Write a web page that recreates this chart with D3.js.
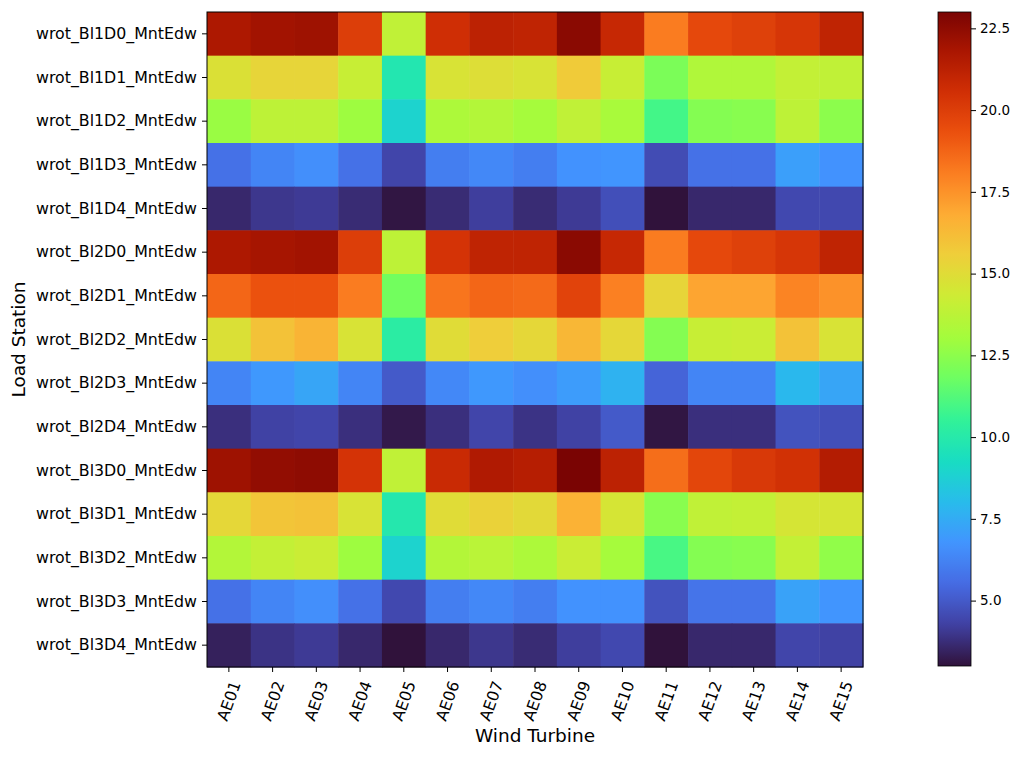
<!DOCTYPE html>
<html>
<head>
<meta charset="utf-8">
<script src="https://cdn.jsdelivr.net/npm/d3@7"></script>
<style>
  body { margin: 0; background: #fff; }
  svg text { font-family: "DejaVu Sans", sans-serif; fill: #000; }
</style>
</head>
<body>
<svg id="chart" width="1024" height="759"></svg>
<script>
// load stations (rows) and turbines (columns)
var stations = [
  "wrot_Bl1D0_MntEdw", "wrot_Bl1D1_MntEdw", "wrot_Bl1D2_MntEdw", "wrot_Bl1D3_MntEdw", "wrot_Bl1D4_MntEdw",
  "wrot_Bl2D0_MntEdw", "wrot_Bl2D1_MntEdw", "wrot_Bl2D2_MntEdw", "wrot_Bl2D3_MntEdw", "wrot_Bl2D4_MntEdw",
  "wrot_Bl3D0_MntEdw", "wrot_Bl3D1_MntEdw", "wrot_Bl3D2_MntEdw", "wrot_Bl3D3_MntEdw", "wrot_Bl3D4_MntEdw"
];
var turbines = ["AE01", "AE02", "AE03", "AE04", "AE05", "AE06", "AE07", "AE08",
                "AE09", "AE10", "AE11", "AE12", "AE13", "AE14", "AE15"];

// one row per station, one value per turbine
var values = [
  [21.7, 22.0, 22.1, 20.0, 13.9, 20.6, 21.2, 21.1, 22.6, 20.9, 18.1, 19.6, 19.9, 20.3, 21.1],
  [14.8, 15.3, 15.3, 14.1,  9.8, 14.7, 14.9, 14.7, 15.7, 14.1, 12.1, 13.4, 13.4, 14.0, 13.9],
  [12.8, 13.8, 13.8, 12.9,  8.9, 13.3, 13.5, 13.1, 13.9, 13.2, 10.9, 12.3, 12.4, 13.8, 12.5],
  [ 5.7,  6.3,  6.6,  5.7,  4.4,  6.1,  6.4,  6.1,  6.7,  6.8,  4.6,  5.7,  5.7,  7.1,  6.7],
  [ 3.6,  4.0,  4.1,  3.7,  3.1,  3.7,  4.2,  3.7,  4.1,  4.7,  3.0,  3.6,  3.6,  4.5,  4.5],
  [21.7, 21.9, 22.0, 20.0, 13.8, 20.4, 21.1, 21.1, 22.6, 20.9, 18.1, 19.6, 19.9, 20.3, 21.1],
  [18.7, 19.3, 19.3, 18.1, 11.9, 18.3, 18.7, 18.6, 19.8, 18.0, 15.3, 17.0, 17.0, 17.9, 17.5],
  [14.8, 16.0, 16.5, 14.7, 10.2, 15.0, 15.6, 15.2, 16.4, 15.2, 12.3, 14.1, 14.2, 16.0, 14.7],
  [ 6.3,  6.9,  7.3,  6.3,  5.0,  6.4,  6.9,  6.6,  7.0,  7.7,  5.3,  6.3,  6.3,  7.9,  7.3],
  [ 3.8,  4.3,  4.4,  3.8,  3.2,  3.8,  4.4,  3.9,  4.3,  5.0,  3.1,  3.8,  3.8,  4.8,  4.7],
  [22.1, 22.4, 22.5, 20.4, 13.9, 20.8, 21.6, 21.4, 23.0, 21.2, 18.5, 19.7, 20.2, 20.5, 21.5],
  [15.2, 15.9, 16.0, 14.7,  9.9, 15.0, 15.4, 15.1, 16.6, 14.6, 12.4, 13.9, 14.0, 14.6, 14.6],
  [13.5, 14.0, 14.2, 12.9,  8.9, 13.5, 13.7, 13.3, 14.2, 13.1, 11.0, 12.3, 12.4, 14.0, 12.6],
  [ 5.7,  6.3,  6.6,  5.7,  4.5,  6.1,  6.4,  6.1,  6.7,  6.7,  4.8,  5.8,  5.8,  7.2,  6.8],
  [ 3.4,  3.9,  4.1,  3.6,  3.0,  3.6,  4.0,  3.7,  4.2,  4.5,  3.0,  3.6,  3.6,  4.4,  4.3]
];
var colorbarTicks = [5, 7.5, 10, 12.5, 15, 17.5, 20, 22.5];

var svg = d3.select("#chart");

var plot = { left: 207, top: 12, right: 863, bottom: 667 };
var cbar = { left: 938, right: 971, top: 12, bottom: 666 };

var x = d3.scaleBand().domain(turbines).range([plot.left, plot.right]);
var y = d3.scaleBand().domain(stations).range([plot.top, plot.bottom]);

var allValues = d3.merge(values);
var vmin = d3.min(allValues), vmax = d3.max(allValues);

// turbo colour map, sampled every 16 entries of the 256-entry table
var turboStops = [
  [48, 18, 59], [64, 64, 162], [70, 107, 227], [66, 148, 255], [40, 188, 235],
  [24, 221, 194], [50, 242, 152], [109, 254, 98], [164, 252, 60], [205, 236, 52],
  [238, 207, 58], [253, 172, 52], [251, 126, 33], [235, 80, 14], [208, 47, 5],
  [169, 22, 1], [122, 4, 3]
];
var stopPos = turboStops.map(function(d, i) { return Math.min(i * 16, 255) / 255; });
function turbo(t) {
  t = Math.max(0, Math.min(1, t));
  var i = d3.bisectRight(stopPos, t) - 1;
  if (i >= turboStops.length - 1) i = turboStops.length - 2;
  var k = (t - stopPos[i]) / (stopPos[i + 1] - stopPos[i]);
  var a = turboStops[i], b = turboStops[i + 1];
  return d3.interpolateRgb(d3.rgb(a[0], a[1], a[2]), d3.rgb(b[0], b[1], b[2]))(k);
}
var color = d3.scaleSequential(turbo).domain([vmin, vmax]);

// cells
var cells = [];
values.forEach(function(row, i) {
  row.forEach(function(v, j) {
    cells.push({ station: stations[i], turbine: turbines[j], value: v });
  });
});

svg.append("g").selectAll("rect")
  .data(cells)
  .enter().append("rect")
  .attr("x", function(d) { return x(d.turbine); })
  .attr("y", function(d) { return y(d.station); })
  .attr("width", x.bandwidth() + 0.5)
  .attr("height", y.bandwidth() + 0.5)
  .attr("fill", function(d) { return color(d.value); });

svg.append("rect")
  .attr("x", plot.left).attr("y", plot.top)
  .attr("width", plot.right - plot.left).attr("height", plot.bottom - plot.top)
  .attr("fill", "none").attr("stroke", "#000").attr("stroke-width", 1);

// axes
var yAxis = svg.append("g")
  .attr("transform", "translate(" + plot.left + ",0)")
  .call(d3.axisLeft(y).tickSize(5).tickPadding(5));
yAxis.select(".domain").remove();
yAxis.selectAll("text").style("font-size", "15.8px");

var xAxis = svg.append("g")
  .attr("transform", "translate(0," + plot.bottom + ")")
  .call(d3.axisBottom(x).tickSize(5));
xAxis.select(".domain").remove();
xAxis.selectAll("text")
  .style("font-size", "15.8px")
  .attr("y", 0).attr("dy", null)
  .attr("text-anchor", "middle")
  .attr("dominant-baseline", "central")
  .attr("transform", "translate(0,34) rotate(-70)");

svg.append("text")
  .attr("x", (plot.left + plot.right) / 2)
  .attr("y", 742)
  .attr("text-anchor", "middle")
  .style("font-size", "18.5px")
  .text("Wind Turbine");

svg.append("text")
  .attr("transform", "translate(25," + (plot.top + plot.bottom) / 2 + ") rotate(-90)")
  .attr("text-anchor", "middle")
  .style("font-size", "18.5px")
  .text("Load Station");

// colour bar
var cy = d3.scaleLinear().domain([vmin, vmax]).range([cbar.bottom, cbar.top]);

var grad = svg.append("defs").append("linearGradient")
  .attr("id", "cbgrad")
  .attr("x1", 0).attr("y1", 1).attr("x2", 0).attr("y2", 0);
grad.selectAll("stop")
  .data(d3.range(0, 1.0001, 0.01))
  .enter().append("stop")
  .attr("offset", function(d) { return d; })
  .attr("stop-color", function(d) { return turbo(d); });

svg.append("rect")
  .attr("x", cbar.left).attr("y", cbar.top)
  .attr("width", cbar.right - cbar.left).attr("height", cbar.bottom - cbar.top)
  .attr("fill", "url(#cbgrad)")
  .attr("stroke", "#000").attr("stroke-width", 0.8);

var cAxis = svg.append("g")
  .attr("transform", "translate(" + cbar.right + ",0)")
  .call(d3.axisRight(cy).tickValues(colorbarTicks).tickFormat(d3.format(".1f")).tickSize(5).tickPadding(4));
cAxis.select(".domain").remove();
cAxis.selectAll("text").style("font-size", "13.5px");
</script>
</body>
</html>
